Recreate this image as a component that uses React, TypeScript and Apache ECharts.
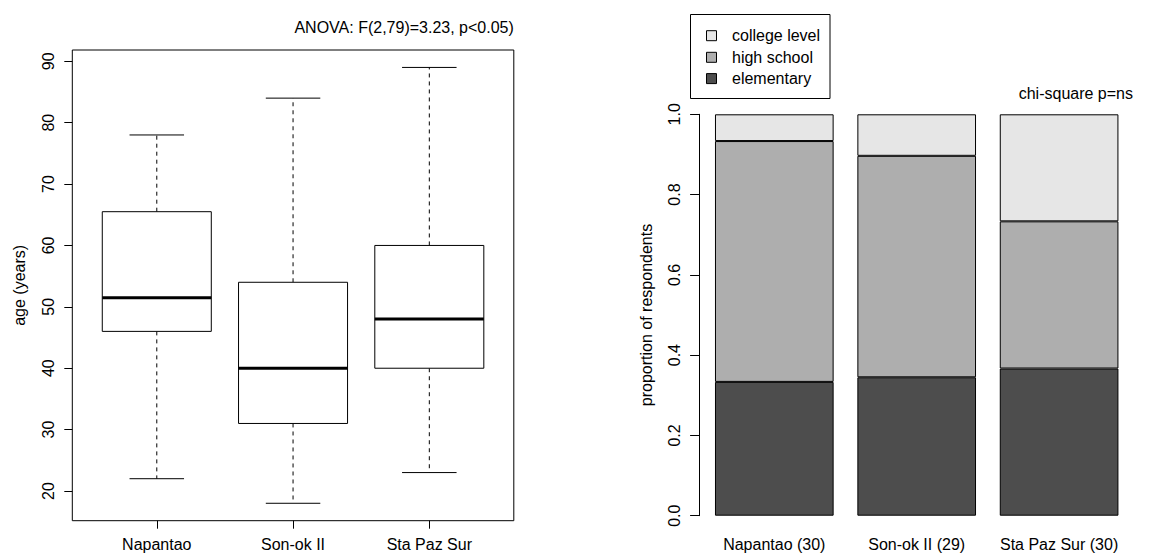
import React, { useEffect, useRef } from 'react';
import * as echarts from 'echarts';

// ---- Left panel: age by site (boxplot) ----
const boxSites = ['Napantao', 'Son-ok II', 'Sta Paz Sur'];
const ageMin = [22, 18, 23];
const ageQ1 = [46, 31, 40];
const ageMedian = [51.5, 40, 48];
const ageQ3 = [65.5, 54, 60];
const ageMax = [78, 84, 89];
const ageTicks = [20, 30, 40, 50, 60, 70, 80, 90];
const anovaText = 'ANOVA: F(2,79)=3.23, p<0.05)';

// ---- Right panel: education level proportions ----
const barSites = ['Napantao', 'Son-ok II', 'Sta Paz Sur'];
const respondents = [30, 29, 30];
const elementaryCount = [10, 10, 11];
const highSchoolCount = [18, 16, 11];
const collegeCount = [2, 3, 8];
const chiText = 'chi-square p=ns';

const FONT = '"Liberation Sans", Arial, Helvetica, sans-serif';
const COL_ELEM = '#4D4D4D';
const COL_HIGH = '#AEAEAE';
const COL_COLL = '#E6E6E6';

export default function App() {
  const ref = useRef<HTMLDivElement>(null);

  useEffect(() => {
    if (!ref.current) return;
    const chart = echarts.init(ref.current, undefined, { renderer: 'svg' });

    const allMin = Math.min(...ageMin);
    const allMax = Math.max(...ageMax);
    const pad = (allMax - allMin) * 0.04;
    const boxData = boxSites.map((_, i) => [i + 1, ageMin[i], ageQ1[i], ageMedian[i], ageQ3[i], ageMax[i]]);

    const prop = (arr: number[]) => arr.map((v, i) => v / respondents[i]);
    const barLabels = barSites.map((s, i) => `${s} (${respondents[i]})`);

    const legendItems = [
      { name: 'college level', color: COL_COLL },
      { name: 'high school', color: COL_HIGH },
      { name: 'elementary', color: COL_ELEM },
    ];
    const legendRowY = [35.7, 57.3, 78.6];

    const renderBox = (params: any, api: any) => {
      const x = api.value(0);
      const lo = api.value(1);
      const q1 = api.value(2);
      const med = api.value(3);
      const q3 = api.value(4);
      const hi = api.value(5);
      const c = (xx: number, yy: number) => api.coord([xx, yy]);
      const pLo = c(x, lo), pQ1 = c(x, q1), pQ3 = c(x, q3), pHi = c(x, hi);
      const capL = c(x - 0.2, lo), capR = c(x + 0.2, lo);
      const capHL = c(x - 0.2, hi), capHR = c(x + 0.2, hi);
      const bL = c(x - 0.4, q3), bR = c(x + 0.4, q1);
      const mL = c(x - 0.4, med), mR = c(x + 0.4, med);
      const line = { stroke: '#000', lineWidth: 1 };
      const dash = { stroke: '#000', lineWidth: 1, lineDash: [4, 4] };
      return {
        type: 'group',
        children: [
          { type: 'line', shape: { x1: pQ3[0], y1: pQ3[1], x2: pHi[0], y2: pHi[1] }, style: dash },
          { type: 'line', shape: { x1: pQ1[0], y1: pQ1[1], x2: pLo[0], y2: pLo[1] }, style: dash },
          { type: 'line', shape: { x1: capHL[0], y1: capHL[1], x2: capHR[0], y2: capHR[1] }, style: line },
          { type: 'line', shape: { x1: capL[0], y1: capL[1], x2: capR[0], y2: capR[1] }, style: line },
          { type: 'rect', shape: { x: bL[0], y: bL[1], width: bR[0] - bL[0], height: bR[1] - bL[1] }, style: { fill: '#fff', stroke: '#000', lineWidth: 1 } },
          { type: 'line', shape: { x1: mL[0], y1: mL[1], x2: mR[0], y2: mR[1] }, style: { stroke: '#000', lineWidth: 3 } },
        ],
      };
    };

    const option: any = {
      animation: false,
      backgroundColor: '#fff',
      textStyle: { fontFamily: FONT, color: '#000' },
      grid: [
        { left: 72.3, top: 50, width: 441.5, height: 470.7, show: true, borderColor: '#000', borderWidth: 1, backgroundColor: 'transparent', containLabel: false },
        { left: 703.1, top: 114.3, width: 427.2, height: 401.4, containLabel: false },
      ],
      xAxis: [
        {
          gridIndex: 0,
          type: 'value',
          min: 0.38,
          max: 3.62,
          axisLine: { show: false },
          splitLine: { show: false },
          axisTick: { show: true, customValues: [1, 2, 3], length: 8, lineStyle: { color: '#000' } },
          axisLabel: {
            customValues: [1, 2, 3],
            formatter: (v: number) => boxSites[Math.round(v) - 1] || '',
            fontSize: 16, color: '#000', fontFamily: FONT, margin: 16,
          },
        },
        {
          gridIndex: 1,
          type: 'category',
          data: barLabels,
          axisLine: { show: false },
          axisTick: { show: false },
          splitLine: { show: false },
          axisLabel: { fontSize: 16, color: '#000', fontFamily: FONT, margin: 21, interval: 0 },
        },
      ],
      yAxis: [
        {
          gridIndex: 0,
          type: 'value',
          min: allMin - pad,
          max: allMax + pad,
          axisLine: { show: false },
          splitLine: { show: false },
          axisTick: { show: true, customValues: ageTicks, length: 8, lineStyle: { color: '#000' } },
          axisLabel: { customValues: ageTicks, rotate: 90, fontSize: 16, color: '#000', fontFamily: FONT, margin: 16 },
          name: 'age (years)',
          nameLocation: 'middle',
          nameRotate: 90,
          nameGap: 45,
          nameTextStyle: { fontSize: 16, color: '#000', fontFamily: FONT },
        },
        {
          gridIndex: 1,
          type: 'value',
          min: 0,
          max: 1,
          interval: 0.2,
          offset: 4,
          axisLine: { show: true, lineStyle: { color: '#000', width: 1 } },
          splitLine: { show: false },
          axisTick: { show: true, length: 9, lineStyle: { color: '#000' } },
          axisLabel: { rotate: 90, fontSize: 16, color: '#000', fontFamily: FONT, margin: 17, formatter: (v: number) => v.toFixed(1) },
          name: 'proportion of respondents',
          nameLocation: 'middle',
          nameRotate: 90,
          nameGap: 45,
          nameTextStyle: { fontSize: 16, color: '#000', fontFamily: FONT },
        },
      ],
      series: [
        {
          type: 'custom',
          name: 'age',
          xAxisIndex: 0,
          yAxisIndex: 0,
          coordinateSystem: 'cartesian2d',
          encode: { x: 0, y: [1, 2, 3, 4, 5] },
          data: boxData,
          renderItem: renderBox,
          silent: true,
        },
        {
          type: 'bar', name: 'elementary', stack: 'edu', xAxisIndex: 1, yAxisIndex: 1,
          barWidth: '83.33%', data: prop(elementaryCount),
          itemStyle: { color: COL_ELEM, borderColor: '#000', borderWidth: 1 },
        },
        {
          type: 'bar', name: 'high school', stack: 'edu', xAxisIndex: 1, yAxisIndex: 1,
          barWidth: '83.33%', data: prop(highSchoolCount),
          itemStyle: { color: COL_HIGH, borderColor: '#000', borderWidth: 1 },
        },
        {
          type: 'bar', name: 'college level', stack: 'edu', xAxisIndex: 1, yAxisIndex: 1,
          barWidth: '83.33%', data: prop(collegeCount),
          itemStyle: { color: COL_COLL, borderColor: '#000', borderWidth: 1 },
        },
      ],
      graphic: [
        {
          type: 'text', x: 513.8, y: 27,
          style: { text: anovaText, fill: '#000', font: `16px ${FONT}`, textAlign: 'right', textVerticalAlign: 'middle' },
        },
        {
          type: 'text', x: 1133, y: 93,
          style: { text: chiText, fill: '#000', font: `16px ${FONT}`, textAlign: 'right', textVerticalAlign: 'middle' },
        },
        {
          type: 'rect', shape: { x: 690.5, y: 14.5, width: 139.5, height: 84 },
          style: { fill: '#fff', stroke: '#000', lineWidth: 1 },
        },
        ...legendItems.map((it, i) => ({
          type: 'rect', shape: { x: 706.5, y: legendRowY[i] - 5, width: 10, height: 10 },
          style: { fill: it.color, stroke: '#000', lineWidth: 1 },
        })),
        ...legendItems.map((it, i) => ({
          type: 'text', x: 732, y: legendRowY[i],
          style: { text: it.name, fill: '#000', font: `16px ${FONT}`, textAlign: 'left', textVerticalAlign: 'middle' },
        })),
      ],
    };

    chart.setOption(option);
    return () => chart.dispose();
  }, []);

  return (
    <div
      ref={ref}
      style={{ position: 'absolute', left: 0, top: 0, width: 1169, height: 554, background: '#fff' }}
    />
  );
}
